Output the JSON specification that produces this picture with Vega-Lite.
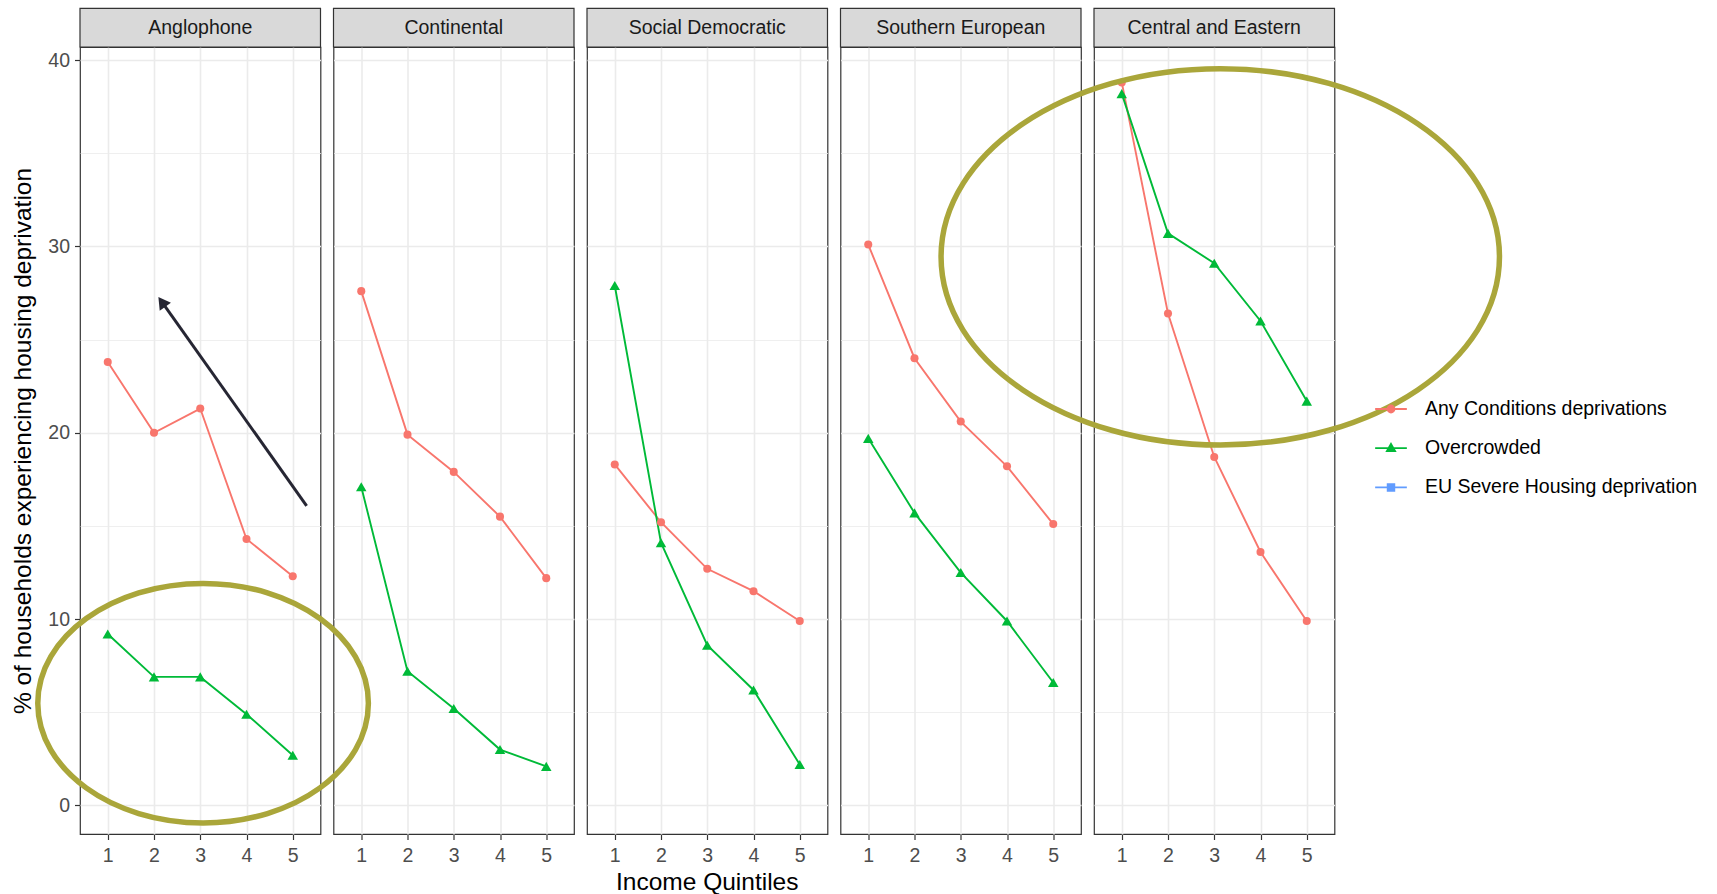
{
  "$schema": "https://vega.github.io/schema/vega-lite/v6.json",
  "padding": {"left": 10, "top": 7, "right": 5, "bottom": 0},
  "bounds": "flush",
  "data": {"values": [
    {"region": "Anglophone", "quintile": 1, "series": "Any Conditions deprivations", "value": 23.8},
    {"region": "Anglophone", "quintile": 2, "series": "Any Conditions deprivations", "value": 20.0},
    {"region": "Anglophone", "quintile": 3, "series": "Any Conditions deprivations", "value": 21.3},
    {"region": "Anglophone", "quintile": 4, "series": "Any Conditions deprivations", "value": 14.3},
    {"region": "Anglophone", "quintile": 5, "series": "Any Conditions deprivations", "value": 12.3},
    {"region": "Anglophone", "quintile": 1, "series": "Overcrowded", "value": 9.2},
    {"region": "Anglophone", "quintile": 2, "series": "Overcrowded", "value": 6.9},
    {"region": "Anglophone", "quintile": 3, "series": "Overcrowded", "value": 6.9},
    {"region": "Anglophone", "quintile": 4, "series": "Overcrowded", "value": 4.9},
    {"region": "Anglophone", "quintile": 5, "series": "Overcrowded", "value": 2.7},
    {"region": "Continental", "quintile": 1, "series": "Any Conditions deprivations", "value": 27.6},
    {"region": "Continental", "quintile": 2, "series": "Any Conditions deprivations", "value": 19.9},
    {"region": "Continental", "quintile": 3, "series": "Any Conditions deprivations", "value": 17.9},
    {"region": "Continental", "quintile": 4, "series": "Any Conditions deprivations", "value": 15.5},
    {"region": "Continental", "quintile": 5, "series": "Any Conditions deprivations", "value": 12.2},
    {"region": "Continental", "quintile": 1, "series": "Overcrowded", "value": 17.1},
    {"region": "Continental", "quintile": 2, "series": "Overcrowded", "value": 7.2},
    {"region": "Continental", "quintile": 3, "series": "Overcrowded", "value": 5.2},
    {"region": "Continental", "quintile": 4, "series": "Overcrowded", "value": 3.0},
    {"region": "Continental", "quintile": 5, "series": "Overcrowded", "value": 2.1},
    {"region": "Social Democratic", "quintile": 1, "series": "Any Conditions deprivations", "value": 18.3},
    {"region": "Social Democratic", "quintile": 2, "series": "Any Conditions deprivations", "value": 15.2},
    {"region": "Social Democratic", "quintile": 3, "series": "Any Conditions deprivations", "value": 12.7},
    {"region": "Social Democratic", "quintile": 4, "series": "Any Conditions deprivations", "value": 11.5},
    {"region": "Social Democratic", "quintile": 5, "series": "Any Conditions deprivations", "value": 9.9},
    {"region": "Social Democratic", "quintile": 1, "series": "Overcrowded", "value": 27.9},
    {"region": "Social Democratic", "quintile": 2, "series": "Overcrowded", "value": 14.1},
    {"region": "Social Democratic", "quintile": 3, "series": "Overcrowded", "value": 8.6},
    {"region": "Social Democratic", "quintile": 4, "series": "Overcrowded", "value": 6.2},
    {"region": "Social Democratic", "quintile": 5, "series": "Overcrowded", "value": 2.2},
    {"region": "Southern European", "quintile": 1, "series": "Any Conditions deprivations", "value": 30.1},
    {"region": "Southern European", "quintile": 2, "series": "Any Conditions deprivations", "value": 24.0},
    {"region": "Southern European", "quintile": 3, "series": "Any Conditions deprivations", "value": 20.6},
    {"region": "Southern European", "quintile": 4, "series": "Any Conditions deprivations", "value": 18.2},
    {"region": "Southern European", "quintile": 5, "series": "Any Conditions deprivations", "value": 15.1},
    {"region": "Southern European", "quintile": 1, "series": "Overcrowded", "value": 19.7},
    {"region": "Southern European", "quintile": 2, "series": "Overcrowded", "value": 15.7},
    {"region": "Southern European", "quintile": 3, "series": "Overcrowded", "value": 12.5},
    {"region": "Southern European", "quintile": 4, "series": "Overcrowded", "value": 9.9},
    {"region": "Southern European", "quintile": 5, "series": "Overcrowded", "value": 6.6},
    {"region": "Central and Eastern", "quintile": 1, "series": "Any Conditions deprivations", "value": 38.8},
    {"region": "Central and Eastern", "quintile": 2, "series": "Any Conditions deprivations", "value": 26.4},
    {"region": "Central and Eastern", "quintile": 3, "series": "Any Conditions deprivations", "value": 18.7},
    {"region": "Central and Eastern", "quintile": 4, "series": "Any Conditions deprivations", "value": 13.6},
    {"region": "Central and Eastern", "quintile": 5, "series": "Any Conditions deprivations", "value": 9.9},
    {"region": "Central and Eastern", "quintile": 1, "series": "Overcrowded", "value": 38.2},
    {"region": "Central and Eastern", "quintile": 2, "series": "Overcrowded", "value": 30.7},
    {"region": "Central and Eastern", "quintile": 3, "series": "Overcrowded", "value": 29.1},
    {"region": "Central and Eastern", "quintile": 4, "series": "Overcrowded", "value": 26.0},
    {"region": "Central and Eastern", "quintile": 5, "series": "Overcrowded", "value": 21.7}
  ]},
  "facet": {
    "column": {
      "field": "region", "type": "nominal",
      "sort": ["Anglophone", "Continental", "Social Democratic", "Southern European", "Central and Eastern"],
      "header": {"labels": false, "title": null}
    }
  },
  "spacing": 12.5,
  "spec": {
    "width": 240.5,
    "height": 787,
    "layer": [
      {
        "mark": {"type": "line", "strokeWidth": 1.9},
        "encoding": {
          "x": {"field": "quintile", "type": "quantitative",
                "scale": {"domain": [0.4, 5.6], "nice": false, "zero": false},
                "axis": {"title": null, "values": [1, 2, 3, 4, 5], "format": "d", "labelPadding": 7}},
          "y": {"field": "value", "type": "quantitative",
                "title": "% of households experiencing housing deprivation",
                "scale": {"domain": [-1.53, 40.7], "nice": false, "zero": false},
                "axis": {
                  "values": [0, 5, 10, 15, 20, 25, 30, 35, 40],
                  "labelExpr": "datum.value % 10 === 0 ? datum.label : ''",
                  "tickOpacity": {"condition": {"test": "datum.value % 10 === 0", "value": 1}, "value": 0},
                  "gridWidth": {"condition": {"test": "datum.value % 10 === 0", "value": 1.6}, "value": 0.8},
                  "labelPadding": 5,
                  "titlePadding": 12
                }},
          "color": {"field": "series", "type": "nominal",
                    "scale": {"domain": ["Any Conditions deprivations", "Overcrowded", "EU Severe Housing deprivation"],
                              "range": ["#F8766D", "#00BA38", "#619CFF"]},
                    "legend": {
                      "title": null,
                      "orient": "none",
                      "legendX": 1294,
                      "legendY": 345,
                      "padding": 0,
                      "symbolSize": 1005,
                      "symbolStrokeWidth": 1.8,
                      "rowPadding": 12.2,
                      "labelOffset": 17,
                      "labelFontSize": 19.5,
                      "labelFont": "Liberation Sans",
                      "labelColor": "#000000",
                      "labelLimit": 400,
                      "encode": {
                        "symbols": {
                          "update": {
                            "shape": {"signal": "datum.value === 'Overcrowded' ? 'M-1,0H1M0,-0.27L0.26,0.19L-0.26,0.19Z' : datum.value === 'EU Severe Housing deprivation' ? 'M-1,0H1M-0.21,-0.21H0.21V0.21H-0.21Z' : 'M-1,0H1M0.22,0A0.22,0.22 0 1,1 -0.22,0A0.22,0.22 0 1,1 0.22,0Z'"},
                            "fill": {"signal": "datum.value === 'Overcrowded' ? '#00BA38' : datum.value === 'EU Severe Housing deprivation' ? '#619CFF' : '#F8766D'"},
                            "stroke": {"signal": "datum.value === 'Overcrowded' ? '#00BA38' : datum.value === 'EU Severe Housing deprivation' ? '#619CFF' : '#F8766D'"},
                            "strokeWidth": {"value": 1.8},
                            "size": {"value": 1005},
                            "opacity": {"value": 1}
                          }
                        }
                      }
                    }}
        }
      },
      {
        "transform": [{"filter": "datum.series === 'Any Conditions deprivations'"}],
        "mark": {"type": "point", "filled": true, "opacity": 1, "shape": "circle", "size": 65},
        "encoding": {
          "x": {"field": "quintile", "type": "quantitative", "title": null},
          "y": {"field": "value", "type": "quantitative", "title": "% of households experiencing housing deprivation"},
          "color": {"field": "series", "type": "nominal"}
        }
      },
      {
        "transform": [{"filter": "datum.series === 'Overcrowded'"}],
        "mark": {"type": "point", "filled": true, "opacity": 1, "shape": "triangle-up", "size": 110},
        "encoding": {
          "x": {"field": "quintile", "type": "quantitative", "title": null},
          "y": {"field": "value", "type": "quantitative", "title": "% of households experiencing housing deprivation"},
          "color": {"field": "series", "type": "nominal"}
        }
      },
      {
        "transform": [{"filter": "datum.quintile === 1 && datum.series === 'Overcrowded'"}],
        "mark": {"type": "rect", "fill": "#D9D9D9", "stroke": "#333333", "strokeWidth": 1.2},
        "encoding": {
          "x": {"datum": 0.4, "type": "quantitative", "title": null},
          "x2": {"datum": 5.6},
          "y": {"datum": 40.7, "type": "quantitative", "title": "% of households experiencing housing deprivation"},
          "y2": {"datum": 42.77}
        }
      },
      {
        "transform": [{"filter": "datum.quintile === 1 && datum.series === 'Overcrowded'"}],
        "mark": {"type": "text", "fontSize": 19.5, "font": "Liberation Sans", "color": "#1A1A1A", "baseline": "middle", "align": "center"},
        "encoding": {
          "x": {"datum": 3, "type": "quantitative", "title": null},
          "y": {"datum": 41.72, "type": "quantitative", "title": "% of households experiencing housing deprivation"},
          "text": {"field": "region"}
        }
      },
      {
        "transform": [{"filter": "datum.region === 'Social Democratic' && datum.quintile === 1 && datum.series === 'Overcrowded'"}],
        "mark": {"type": "text", "fontSize": 24.5, "font": "Liberation Sans", "color": "#000000", "baseline": "middle", "align": "center", "text": "Income Quintiles"},
        "encoding": {
          "x": {"datum": 3, "type": "quantitative", "title": null},
          "y": {"datum": -4.15, "type": "quantitative", "title": "% of households experiencing housing deprivation"}
        }
      },
      {
        "transform": [{"filter": "datum.region === 'Anglophone' && datum.quintile === 1 && datum.series === 'Overcrowded'"}],
        "mark": {"type": "rule", "color": "#262633", "strokeWidth": 3},
        "encoding": {
          "x": {"datum": 5.3, "type": "quantitative", "title": null},
          "y": {"datum": 16.08, "type": "quantitative", "title": "% of households experiencing housing deprivation"},
          "x2": {"datum": 2.17},
          "y2": {"datum": 27.02}
        }
      },
      {
        "transform": [{"filter": "datum.region === 'Anglophone' && datum.quintile === 1 && datum.series === 'Overcrowded'"}],
        "mark": {"type": "point", "shape": "triangle-up", "filled": true, "color": "#262633", "opacity": 1, "size": 190, "angle": 324.5},
        "encoding": {
          "x": {"datum": 2.17, "type": "quantitative", "title": null},
          "y": {"datum": 27.02, "type": "quantitative", "title": "% of households experiencing housing deprivation"}
        }
      },
      {
        "transform": [{"filter": "datum.region === 'Continental' && datum.quintile === 1 && datum.series === 'Overcrowded'"}],
        "mark": {"type": "point", "shape": "M-1,0A1,0.7245 0 1,1 1,0A1,0.7245 0 1,1 -1,0Z", "filled": false, "color": "#AAA63A", "opacity": 1, "strokeWidth": 5.5, "size": 109296},
        "encoding": {
          "x": {"datum": -2.42, "type": "quantitative", "title": null},
          "y": {"datum": 5.49, "type": "quantitative", "title": "% of households experiencing housing deprivation"}
        }
      },
      {
        "transform": [{"filter": "datum.region === 'Central and Eastern' && datum.quintile === 1 && datum.series === 'Overcrowded'"}],
        "mark": {"type": "point", "shape": "M-1,0A1,0.674 0 1,1 1,0A1,0.674 0 1,1 -1,0Z", "filled": false, "color": "#AAA63A", "opacity": 1, "strokeWidth": 5.5, "size": 311811},
        "encoding": {
          "x": {"datum": 3.13, "type": "quantitative", "title": null},
          "y": {"datum": 29.44, "type": "quantitative", "title": "% of households experiencing housing deprivation"}
        }
      }
    ]
  },
  "config": {
    "font": "Liberation Sans",
    "background": "#FFFFFF",
    "view": {"stroke": "#333333", "strokeWidth": 1.2},
    "axis": {
      "domain": false,
      "grid": true,
      "gridColor": "#EBEBEB",
      "gridWidth": 1.6,
      "tickColor": "#333333",
      "tickSize": 5.5,
      "tickWidth": 1.2,
      "labelColor": "#4D4D4D",
      "labelFontSize": 19.5,
      "labelFont": "Liberation Sans",
      "titleFont": "Liberation Sans",
      "titleFontSize": 24.5,
      "titleFontWeight": "normal",
      "titleColor": "#000000"
    }
  }
}
